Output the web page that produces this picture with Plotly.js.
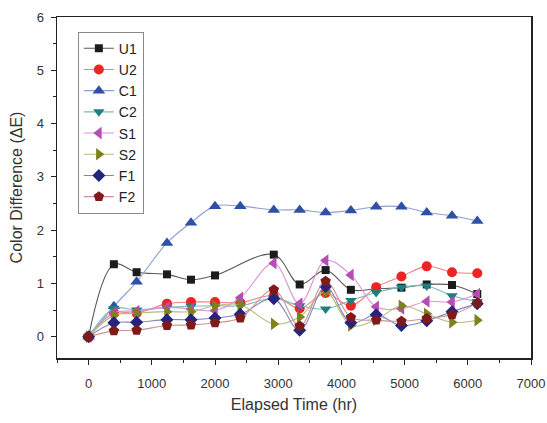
<!DOCTYPE html>
<html>
<head>
<meta charset="utf-8">
<script src="https://cdn.plot.ly/plotly-3.0.1.min.js"></script>
<style>html,body{margin:0;padding:0;background:#fff;}#chart{width:547px;height:423px;}</style>
</head>
<body>
<div id="chart"></div>
<script>
// Elapsed time (hr)
const hours = [0, 400, 760, 1240, 1620, 2000, 2400, 2930, 3340, 3750, 4150, 4550, 4950, 5350, 5750, 6150];
const hoursNo2400 = [0, 400, 760, 1240, 1620, 2000, 2930, 3340, 3750, 4150, 4550, 4950, 5350, 5750, 6150];

// Color difference (ΔE) per sample
const U1 = [0, 1.36, 1.21, 1.17, 1.07, 1.15, 1.54, 0.98, 1.25, 0.88, 0.90, 0.92, 0.98, 0.97, 0.80];
const U2 = [0, 0.45, 0.44, 0.62, 0.65, 0.65, 0.64, 0.77, 0.53, 0.82, 0.58, 0.93, 1.13, 1.32, 1.21, 1.19];
const C1 = [0, 0.57, 1.03, 1.76, 2.14, 2.45, 2.45, 2.38, 2.38, 2.33, 2.37, 2.44, 2.44, 2.33, 2.27, 2.17];
const C2 = [0, 0.53, 0.50, 0.55, 0.57, 0.58, 0.58, 0.72, 0.58, 0.52, 0.68, 0.83, 0.93, 0.95, 0.77, 0.66];
const S1 = [0, 0.45, 0.48, 0.55, 0.52, 0.49, 0.73, 1.38, 0.62, 1.43, 1.16, 0.56, 0.53, 0.66, 0.65, 0.80];
const S2 = [0, 0.40, 0.44, 0.47, 0.47, 0.58, 0.60, 0.24, 0.37, 0.84, 0.21, 0.32, 0.58, 0.43, 0.27, 0.31];
const F1 = [0, 0.26, 0.27, 0.32, 0.32, 0.35, 0.42, 0.71, 0.12, 0.94, 0.26, 0.41, 0.21, 0.30, 0.47, 0.62];
const F2 = [0, 0.11, 0.12, 0.21, 0.22, 0.26, 0.35, 0.88, 0.20, 1.04, 0.36, 0.31, 0.29, 0.34, 0.41, 0.63];

const names = ['U1', 'U2', 'C1', 'C2', 'S1', 'S2', 'F1', 'F2'];
const seriesY = [U1, U2, C1, C2, S1, S2, F1, F2];
const seriesX = [hoursNo2400, hours, hours, hours, hours, hours, hours, hours];
const symbols = ['square', 'circle', 'triangle-up', 'triangle-down', 'triangle-left', 'triangle-right', 'diamond', 'pentagon'];
const markerColors = ['#1c1c1c', '#ee2424', '#3050a8', '#1f7f80', '#b54db5', '#7f8020', '#24247f', '#7f1a1a'];
const lineColors = ['#5a5a5a', '#f07f7f', '#8e9fd2', '#7cbcbc', '#d991d9', '#b9b978', '#8484bc', '#c49696'];
const markerSizes = [8, 10, 11, 10, 11, 11, 10, 11];

const traces = names.map((n, i) => ({
  type: 'scatter',
  mode: 'lines+markers',
  name: n,
  x: seriesX[i],
  y: seriesY[i],
  line: {color: lineColors[i], width: 1.1, shape: 'spline', smoothing: 1},
  marker: {symbol: symbols[i], color: markerColors[i], size: markerSizes[i], line: {width: 0}}
}));

const fontFam = 'Liberation Sans, Arial, sans-serif';
const layout = {
  width: 547, height: 423,
  margin: {l: 57, r: 16, t: 17, b: 65},
  paper_bgcolor: '#fff', plot_bgcolor: '#fff',
  font: {family: fontFam, color: '#333'},
  showlegend: true,
  legend: {
    x: 0.044, y: 0.957, xanchor: 'left', yanchor: 'top',
    bgcolor: '#fff', bordercolor: '#8a8a8a', borderwidth: 1,
    font: {family: fontFam, size: 14, color: '#222'},
    tracegroupgap: 0
  },
  xaxis: {
    range: [-500, 7000],
    tickvals: [0, 1000, 2000, 3000, 4000, 5000, 6000, 7000],
    ticks: 'outside', ticklen: 5, tickwidth: 1, tickcolor: '#222',
    minor: {dtick: 500, tick0: 0, ticks: 'outside', ticklen: 3, tickcolor: '#222'},
    showgrid: false, zeroline: false,
    showline: true, linecolor: '#222', linewidth: 1.5, mirror: true,
    tickfont: {size: 13, color: '#333'},
    ticklabelstandoff: 8,
    title: {text: 'Elapsed Time (hr)', font: {size: 16, color: '#333'}, standoff: 8}
  },
  yaxis: {
    range: [-0.4, 6],
    tickvals: [0, 1, 2, 3, 4, 5, 6],
    ticks: 'outside', ticklen: 5, tickwidth: 1, tickcolor: '#222',
    minor: {dtick: 0.5, tick0: 0, ticks: 'outside', ticklen: 3, tickcolor: '#222'},
    showgrid: false, zeroline: false,
    showline: true, linecolor: '#222', linewidth: 1.5, mirror: true,
    tickfont: {size: 13, color: '#333'},
    ticklabelstandoff: 4,
    title: {text: 'Color Difference (ΔE)', font: {size: 16, color: '#333'}, standoff: 10}
  }
};

Plotly.newPlot('chart', traces, layout, {staticPlot: true, displayModeBar: false});
</script>
</body>
</html>
